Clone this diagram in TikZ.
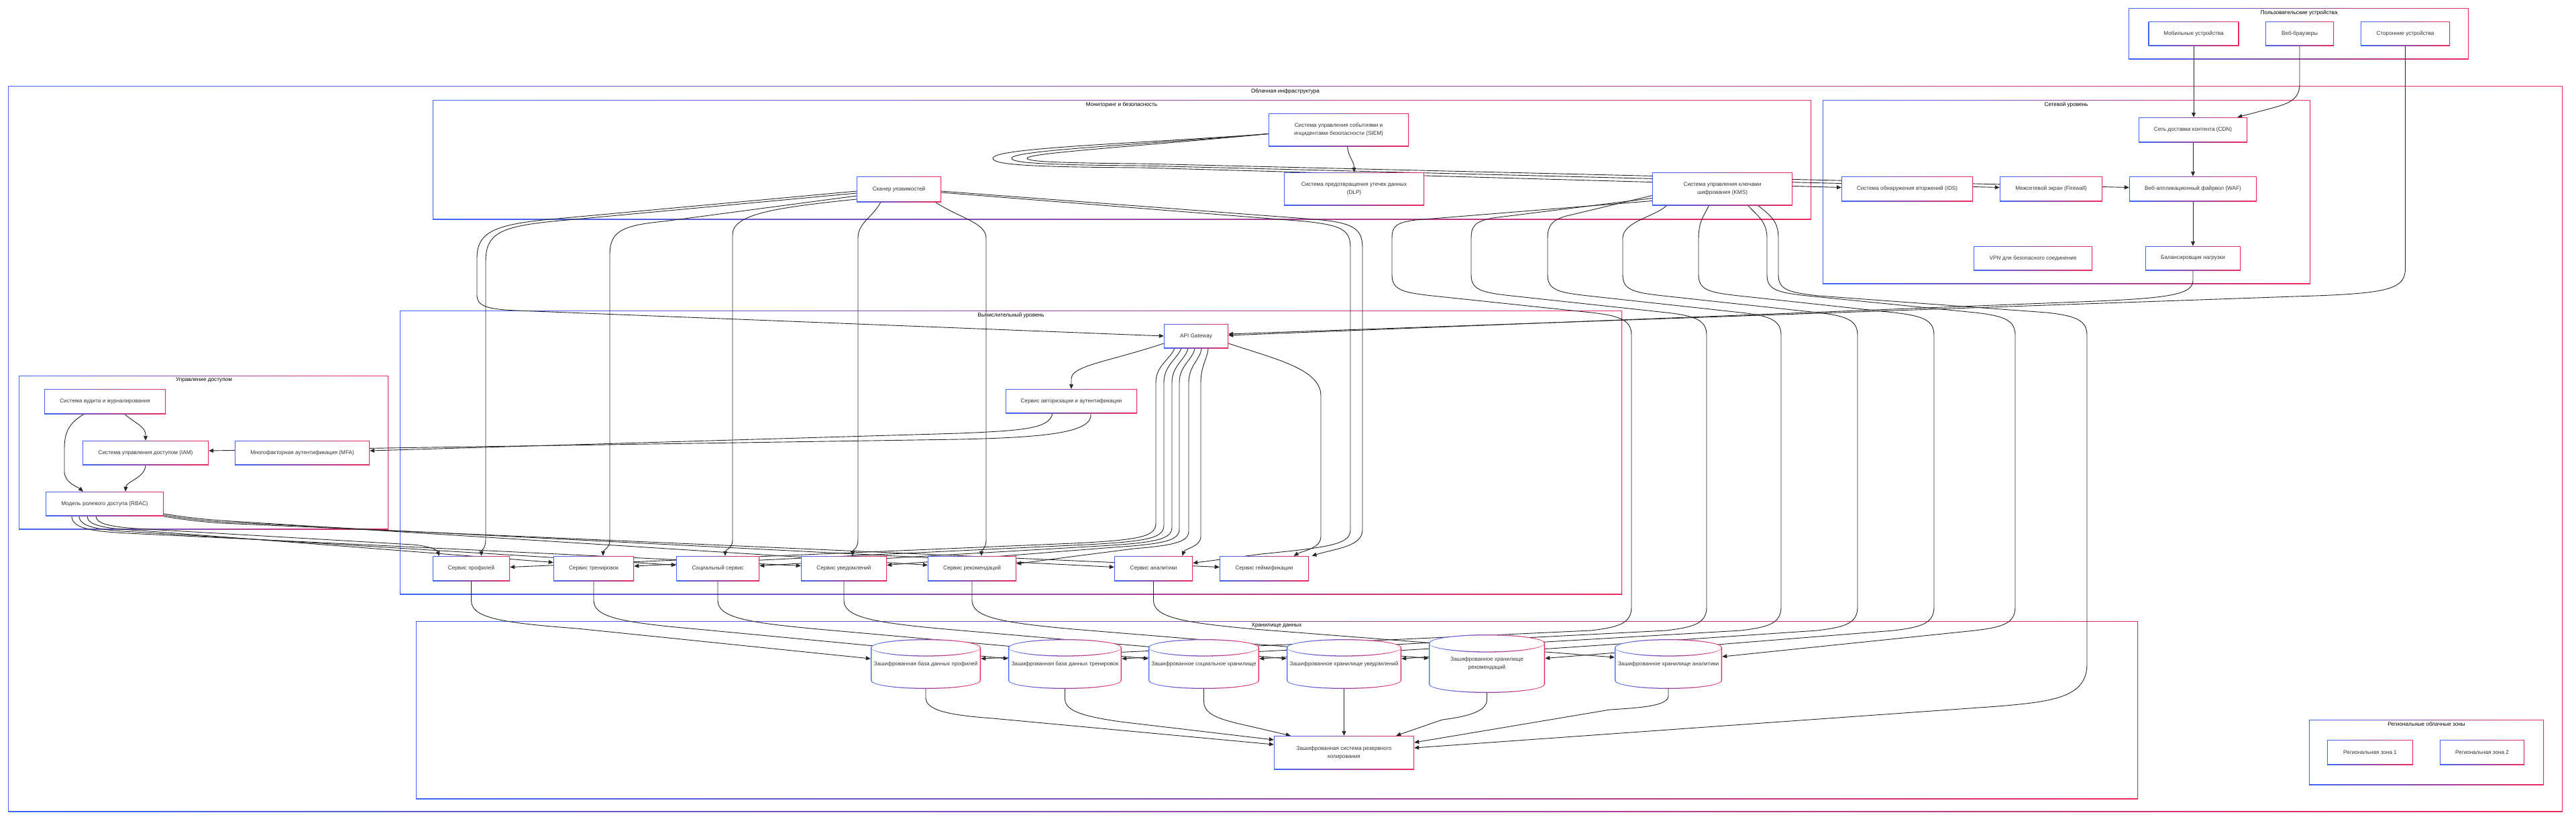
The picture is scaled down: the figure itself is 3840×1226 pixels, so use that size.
\documentclass[tikz,border=0pt]{standalone}
\usepackage{fontspec}
\setmainfont{Liberation Sans}
\setsansfont{Liberation Sans}
\usetikzlibrary{arrows.meta,calc}
\definecolor{cblue}{HTML}{3D66F5}
\definecolor{cred}{HTML}{EE2A5E}
\definecolor{tgray}{HTML}{333333}
\pgfdeclarelayer{bg}
\pgfdeclarelayer{edges}
\pgfsetlayers{bg,edges,main}
\tikzset{
  gbox/.style 2 args={rectangle, fill=white, draw=none, minimum width=#1pt, minimum height=#2pt, inner sep=0pt, text=tgray, font=\fontsize{8.2}{12}\selectfont, align=center,
    path picture={
      \shade[left color=cblue, right color=cred] (path picture bounding box.south west) rectangle (path picture bounding box.north east);
      \fill[white] ([shift={(1.3pt,1.3pt)}]path picture bounding box.south west) rectangle ([shift={(-1.3pt,-1.3pt)}]path picture bounding box.north east);
    }},
  dbname/.style 2 args={rectangle, draw=none, minimum width=#1pt, minimum height=#2pt, inner sep=0pt, text=tgray, font=\fontsize{8.2}{12}\selectfont, align=center},
  ctitle/.style={text=black, font=\fontsize{8.2}{10}\selectfont, inner sep=0pt},
  conn/.style={draw=black!85, line width=0.9pt, -{Triangle[length=7pt,width=6pt]}},
}
\newcommand\gclus[4]{%
  \shade[left color=cblue, right color=cred] (#1,#2) rectangle (#3,#4);
  \fill[white] (#1+1.3,#2+1.3) rectangle (#3-1.3,#4-1.3);}
\newcommand\dbcyl[5]{%
 \pgfmathsetmacro\cyA{#3/2}%
 \pgfmathsetmacro\cyKA{0.5523*#3/2}%
 \pgfmathsetmacro\cyT{-#4/2+#5}%
 \pgfmathsetmacro\cyB{#4/2-#5}%
 \pgfmathsetmacro\cyR{#5}%
 \pgfmathsetmacro\cyK{0.5523*#5}%
 \pgfmathsetmacro\cyAi{#3/2-1.3}%
 \pgfmathsetmacro\cyKAi{0.5523*(#3/2-1.3)}%
 \pgfmathsetmacro\cyRi{#5-1.3}%
 \pgfmathsetmacro\cyKi{0.5523*(#5-1.3)}%
 \pgfmathsetmacro\cyRo{#5+0.65}%
 \pgfmathsetmacro\cyKo{0.5523*(#5+0.65)}%
 \pgfmathsetmacro\cyRm{#5-0.65}%
 \pgfmathsetmacro\cyKm{0.5523*(#5-0.65)}%
 \begin{scope}[shift={(#1,#2)}]
 \shade[left color=cblue, right color=cred] (-\cyA,\cyT) -- (-\cyA,\cyB)
   .. controls (-\cyA,\cyB+\cyK) and (-\cyKA,\cyB+\cyR) .. (0,\cyB+\cyR)
   .. controls (\cyKA,\cyB+\cyR) and (\cyA,\cyB+\cyK) .. (\cyA,\cyB)
   -- (\cyA,\cyT)
   .. controls (\cyA,\cyT-\cyK) and (\cyKA,\cyT-\cyR) .. (0,\cyT-\cyR)
   .. controls (-\cyKA,\cyT-\cyR) and (-\cyA,\cyT-\cyK) .. (-\cyA,\cyT) -- cycle;
 \fill[white] (-\cyAi,\cyT) -- (-\cyAi,\cyB)
   .. controls (-\cyAi,\cyB+\cyKi) and (-\cyKAi,\cyB+\cyRi) .. (0,\cyB+\cyRi)
   .. controls (\cyKAi,\cyB+\cyRi) and (\cyAi,\cyB+\cyKi) .. (\cyAi,\cyB)
   -- (\cyAi,\cyT)
   .. controls (\cyAi,\cyT-\cyKi) and (\cyKAi,\cyT-\cyRi) .. (0,\cyT-\cyRi)
   .. controls (-\cyKAi,\cyT-\cyRi) and (-\cyAi,\cyT-\cyKi) .. (-\cyAi,\cyT) -- cycle;
 \shade[left color=cblue, right color=cred] (-\cyA,\cyT)
   .. controls (-\cyA,\cyT+\cyKo) and (-\cyKA,\cyT+\cyRo) .. (0,\cyT+\cyRo)
   .. controls (\cyKA,\cyT+\cyRo) and (\cyA,\cyT+\cyKo) .. (\cyA,\cyT)
   .. controls (\cyA,\cyT+\cyKm) and (\cyKA,\cyT+\cyRm) .. (0,\cyT+\cyRm)
   .. controls (-\cyKA,\cyT+\cyRm) and (-\cyA,\cyT+\cyKm) .. (-\cyA,\cyT) -- cycle;
 \end{scope}}
\begin{document}
\begin{tikzpicture}[x=1pt,y=-1pt]
\useasboundingbox (0,0) rectangle (3840,1226);
\begin{pgfonlayer}{bg}
\fill[white] (0,0) rectangle (3840,1226);
\gclus{3173}{12}{3680}{88}
\node[ctitle] (tUser) at (3427,19) {Пользовательские устройства};
\gclus{12}{128}{3820}{1210}
\node[ctitle] (tCloud) at (1916,136) {Облачная инфраструктура};
\gclus{645}{149}{2700}{327}
\node[ctitle] (tMon) at (1672,156) {Мониторинг и безопасность};
\gclus{2717}{149}{3444}{423}
\node[ctitle] (tNet) at (3080,156) {Сетевой уровень};
\gclus{596}{463}{2418}{886}
\node[ctitle] (tComp) at (1507,470) {Вычислительный уровень};
\gclus{28}{560}{579}{789}
\node[ctitle] (tAcc) at (304,566.5) {Управление доступом};
\gclus{620}{926}{3187}{1191}
\node[ctitle] (tSto) at (1903,933) {Хранилище данных};
\gclus{3442}{1073}{3792}{1170}
\node[ctitle] (tReg) at (3617,1079.5) {Региональные облачные зоны};
\end{pgfonlayer}

% nodes
\node[gbox={135}{36}] (mob) at (3270,50) {Мобильные устройства};
\node[gbox={102}{36}] (web) at (3428,50) {Веб-браузеры};
\node[gbox={133}{36}] (third) at (3585.5,50) {Сторонние устройства};
\node[gbox={162}{37}] (cdn) at (3269,193.5) {Сеть доставки контента (CDN)};
\node[gbox={196}{37}] (ids) at (2843,281.5) {Система обнаружения вторжений (IDS)};
\node[gbox={153}{37}] (fw) at (3057.5,281.5) {Межсетевой экран (Firewall)};
\node[gbox={190}{37}] (waf) at (3269,281.5) {Веб-аппликационный файрвол (WAF)};
\node[gbox={177}{36}] (vpn) at (3030.5,385) {VPN для безопасного соединения};
\node[gbox={142}{36}] (lb) at (3269,385) {Балансировщик нагрузки};
\node[gbox={126}{38}] (scan) at (1340,282) {Сканер уязвимостей};
\node[gbox={209}{49}] (siem) at (1995.5,193.5) {Система управления событиями и\\инцидентами безопасности (SIEM)};
\node[gbox={209}{49}] (dlp) at (2018.5,281.5) {Система предотвращения утечек данных\\(DLP)};
\node[gbox={209}{49}] (kms) at (2567.5,281.5) {Система управления ключами\\шифрования (KMS)};
\node[gbox={96}{36}] (api) at (1783,501) {API Gateway};
\node[gbox={196}{36}] (auth) at (1597,598) {Сервис авторизации и аутентификации};
\node[gbox={115}{37}] (prof) at (702.5,847.5) {Сервис профилей};
\node[gbox={120}{37}] (train) at (885,847.5) {Сервис тренировок};
\node[gbox={124}{37}] (soc) at (1070,847.5) {Социальный сервис};
\node[gbox={128}{37}] (notif) at (1258,847.5) {Сервис уведомлений};
\node[gbox={132}{37}] (rec) at (1449,847.5) {Сервис рекомендаций};
\node[gbox={117}{37}] (anal) at (1719.5,847.5) {Сервис аналитики};
\node[gbox={133}{37}] (gam) at (1884.5,847.5) {Сервис геймификации};
\node[gbox={181}{37}] (audit) at (156.5,598.5) {Система аудита и журналирования};
\node[gbox={188}{36}] (iam) at (217,675) {Система управления доступом (IAM)};
\node[gbox={201}{36}] (mfa) at (450.5,675) {Многофакторная аутентификация (MFA)};
\node[gbox={176}{36}] (rbac) at (156,751) {Модель ролевого доступа (RBAC)};
\dbcyl{1380}{990}{164}{74}{12.5}
\node[dbname={164}{74}] (dbprof) at (1380,990) {Зашифрованная база данных профилей};
\dbcyl{1587.5}{990}{169}{74}{12.5}
\node[dbname={169}{74}] (dbtrain) at (1587.5,990) {Зашифрованная база данных тренировок};
\dbcyl{1794.5}{990}{165}{74}{12.5}
\node[dbname={165}{74}] (dbsoc) at (1794.5,990) {Зашифрованное социальное хранилище};
\dbcyl{2003.5}{990}{171}{74}{12.5}
\node[dbname={171}{74}] (dbnotif) at (2003.5,990) {Зашифрованное хранилище уведомлений};
\dbcyl{2216.5}{989.5}{173}{87}{13}
\node[dbname={173}{87}] (dbrec) at (2216.5,989.5) {Зашифрованное хранилище\\рекомендаций};
\dbcyl{2487}{990}{160}{74}{12.5}
\node[dbname={160}{74}] (dbanal) at (2487,990) {Зашифрованное хранилище аналитики};
\node[gbox={209}{50}] (backup) at (2003.5,1122) {Зашифрованная система резервного\\копирования};
\node[gbox={128}{37}] (z1) at (3533,1121.5) {Региональная зона 1};
\node[gbox={126}{37}] (z2) at (3700,1121.5) {Региональная зона 2};

\begin{pgfonlayer}{edges}
% devices and network
\draw[conn] (mob.south) -- (mob.south |- cdn.north);
\draw[conn] (web.south) -- (3428,125) .. controls (3428,150) and (3410,155) .. (3380,163) -- ($(cdn.north east)+(-15,0)$);
\draw[conn] (third.south) -- (3585.5,400) .. controls (3585.5,432) and (3560,438) .. (3420,442) -- ($(api.east)+(0,-3)$);
\draw[conn] (cdn.south) -- (waf.north);
\draw[conn] (waf.south) -- (lb.north);
\draw[conn] (lb.south) -- (3269,418) .. controls (3269,440) and (3230,445) .. (3100,450) -- ($(api.east)+(0,-1)$);
% SIEM
\draw[conn] ($(siem.west)+(0,6)$) .. controls (1700,214) and (1480,220) .. (1480,236) .. controls (1480,246) and (1540,249) .. (1700,250) -- ($(ids.west)+(0,-2)$);
\draw[conn] ($(siem.west)+(0,6)$) .. controls (1700,216) and (1508,224) .. (1508,236) .. controls (1508,243) and (1560,246) .. (1700,247) -- ($(fw.west)+(0,-2)$);
\draw[conn] ($(siem.west)+(0,6)$) .. controls (1700,218) and (1531,228) .. (1531,236) .. controls (1531,241) and (1580,243) .. (1700,244) -- ($(waf.west)+(0,-2)$);
\draw[conn] ($(siem.south)+(13,0)$) .. controls (2010,235) and (2018.5,240) .. (dlp.north);
% KMS to storage
\draw[conn] ($(kms.west)+(0,18)$) -- (2110,328) .. controls (2080,332) and (2075,338) .. (2075,355) -- (2075,410) .. controls (2075,432) and (2090,436) .. (2135,441) -- (2372,466) .. controls (2417,471) and (2432,478) .. (2432,500) -- (2432,905) .. controls (2432,930) and (2412,935) .. (2372,940) -- ($(dbprof.east)+(0,-8)$);
\draw[conn] ($(kms.west)+(0,14)$) -- (2225,325) .. controls (2198,330) and (2193,338) .. (2193,355) -- (2193,410) .. controls (2193,432) and (2208,436) .. (2253,441) -- (2484,466) .. controls (2529,471) and (2544,478) .. (2544,500) -- (2544,905) .. controls (2544,930) and (2524,935) .. (2484,940) -- ($(dbtrain.east)+(0,-8)$);
\draw[conn] ($(kms.west)+(0,10)$) -- (2335,322) .. controls (2312,328) and (2307,338) .. (2307,355) -- (2307,410) .. controls (2307,432) and (2322,436) .. (2367,441) -- (2595,466) .. controls (2640,471) and (2655,478) .. (2655,500) -- (2655,905) .. controls (2655,930) and (2635,935) .. (2595,940) -- ($(dbsoc.east)+(0,-8)$);
\draw[conn] ($(kms.south)+(-83,0)$) .. controls (2470,322) and (2419,330) .. (2419,355) -- (2419,410) .. controls (2419,432) and (2434,436) .. (2479,441) -- (2709,466) .. controls (2754,471) and (2769,478) .. (2769,500) -- (2769,905) .. controls (2769,930) and (2749,935) .. (2709,940) -- ($(dbnotif.east)+(0,-8)$);
\draw[conn] ($(kms.south)+(-20,0)$) .. controls (2540,322) and (2532,330) .. (2532,355) -- (2532,410) .. controls (2532,432) and (2547,436) .. (2592,441) -- (2823,466) .. controls (2868,471) and (2883,478) .. (2883,500) -- (2883,905) .. controls (2883,930) and (2863,935) .. (2823,940) -- ($(dbrec.east)+(0,-8)$);
\draw[conn] ($(kms.south)+(38,0)$) .. controls (2620,322) and (2634,330) .. (2634,355) -- (2634,410) .. controls (2634,432) and (2649,436) .. (2694,441) -- (2944,466) .. controls (2989,471) and (3004,478) .. (3004,500) -- (3004,905) .. controls (3004,930) and (2984,935) .. (2944,940) -- ($(dbanal.east)+(0,-11)$);
\draw[conn] ($(kms.south)+(53,0)$) .. controls (2640,322) and (2651,330) .. (2651,355) -- (2651,410) .. controls (2651,432) and (2666,436) .. (2711,441) -- (3051,466) .. controls (3096,471) and (3111,478) .. (3111,500) -- (3111,990) .. controls (3111,1040) and (3060,1046) .. (2978,1053) -- ($(backup.east)+(0,-7)$);
% scanner
\draw[conn] ($(scan.west)+(0,3)$) -- (820,327) .. controls (735,335) and (711,347) .. (711,385) -- (711,440) .. controls (711,456) and (725,461) .. (770,463) -- (api.west);
\draw[conn] ($(scan.west)+(0,6)$) -- (835,329) .. controls (745,337) and (724,348) .. (724,390) -- (724,805) .. controls (724,818) and (717.5,820) .. ($(prof.north)+(15,0)$);
\draw[conn] ($(scan.west)+(0,10)$) -- (990,330) .. controls (925,336) and (909,346) .. (909,380) -- (909,805) .. controls (909,818) and (899,820) .. ($(train.north)+(14,0)$);
\draw[conn] ($(scan.west)+(0,15)$) .. controls (1150,310) and (1092,320) .. (1092,350) -- (1092,805) .. controls (1092,818) and (1081,820) .. ($(soc.north)+(11,0)$);
\draw[conn] ($(scan.south)+(-27,0)$) .. controls (1300,325) and (1279,332) .. (1279,355) -- (1279,805) .. controls (1279,818) and (1271,820) .. ($(notif.north)+(13,0)$);
\draw[conn] ($(scan.south)+(54,0)$) .. controls (1430,325) and (1470,332) .. (1470,355) -- (1470,805) .. controls (1470,818) and (1463,820) .. ($(rec.north)+(14,0)$);
\draw[conn] ($(scan.east)+(0,3)$) -- (1960,327) .. controls (2020,332) and (2031,342) .. (2031,370) -- (2031,790) .. controls (2031,815) and (1990,818) .. ($(gam.north)+(71,0)$);
\draw[conn] ($(scan.east)+(0,5)$) -- (1945,330) .. controls (2003,336) and (2013,344) .. (2013,370) -- (2013,790) .. controls (2013,812) and (1980,816) .. (1880,826) -- ($(anal.east)+(0,-8)$);
% API gateway
\draw[conn] ($(api.west)+(0,11)$) .. controls (1650,540) and (1597,545) .. (1597,565) -- (auth.north);
\draw[conn] ($(api.south)+(-32,0)$) .. controls (1745,535) and (1723,545) .. (1723,570) -- (1723,780) .. controls (1723,800) and (1700,805) .. (1600,810) -- ($(prof.east)+(0,-2)$);
\draw[conn] ($(api.south)+(-22,0)$) .. controls (1755,535) and (1735,545) .. (1735,570) -- (1735,783) .. controls (1735,802) and (1712,807) .. (1620,812) -- ($(train.east)+(0,-3.5)$);
\draw[conn] ($(api.south)+(-12,0)$) .. controls (1768,535) and (1747,545) .. (1747,570) -- (1747,786) .. controls (1747,804) and (1724,809) .. (1640,814) -- ($(soc.east)+(0,-4)$);
\draw[conn] ($(api.south)+(-2,0)$) .. controls (1779,535) and (1758,545) .. (1758,570) -- (1758,789) .. controls (1758,806) and (1735,811) .. (1660,816) -- ($(notif.east)+(0,-5)$);
\draw[conn] ($(api.south)+(8,0)$) .. controls (1790,535) and (1772,545) .. (1772,570) -- (1772,792) .. controls (1772,808) and (1750,813) .. (1690,818) -- ($(rec.east)+(0,-7)$);
\draw[conn] ($(api.south)+(18,0)$) .. controls (1800,535) and (1790,545) .. (1790,570) -- (1790,800) .. controls (1790,815) and (1766,818) .. ($(anal.north)+(43,0)$);
\draw[conn] ($(api.east)+(0,11)$) .. controls (1900,535) and (1969,550) .. (1969,590) -- (1969,800) .. controls (1969,818) and (1940,822) .. ($(gam.north)+(44,0)$);
% access management
\draw[conn] ($(auth.south)+(-28,0)$) .. controls (1565,640) and (1520,642) .. (1430,646) -- ($(mfa.east)+(0,-3)$);
\draw[conn] ($(auth.south)+(29,0)$) .. controls (1630,645) and (1560,652) .. (1430,655) -- ($(iam.east)+(0,-3)$);
\draw[conn] ($(audit.south)+(29,0)$) .. controls (200,630) and (217,636) .. (217,648) -- (iam.north);
\draw[conn] ($(audit.south)+(-31,0)$) .. controls (100,632) and (96,648) .. (96,670) -- (96,703) .. controls (96,720) and (116,726) .. ($(rbac.north)+(-32,0)$);
\draw[conn] (iam.south) .. controls (217,712) and (188,718) .. ($(rbac.north)+(31,0)$);
% RBAC to services
\draw[conn] ($(rbac.south)+(-13,0)$) .. controls (143,780) and (160,786) .. (220,789) -- (615,812) .. controls (640,814) and (652,820) .. ($(prof.north west)+(10,0)$);
\draw[conn] ($(rbac.south)+(-26,0)$) .. controls (130,782) and (150,788) .. (210,791) -- ($(train.west)+(0,-9)$);
\draw[conn] ($(rbac.south)+(-38,0)$) .. controls (118,784) and (140,790) .. (200,793) -- ($(soc.west)+(0,-5)$);
\draw[conn] ($(rbac.south)+(-49,0)$) .. controls (107,786) and (130,792) .. (190,795) -- ($(notif.west)+(0,-4)$);
\draw[conn] ($(rbac.east)+(0,15)$) .. controls (270,770) and (290,773) .. (330,776) -- ($(rec.west)+(0,-5)$);
\draw[conn] ($(rbac.east)+(0,17)$) .. controls (270,772) and (290,775) .. (330,778) -- ($(anal.west)+(0,-2)$);
\draw[conn] ($(rbac.east)+(0,19)$) .. controls (270,774) and (290,777) .. (330,780) -- ($(gam.west)+(0,-2)$);
% services to storage
\draw[conn] (prof.south) -- (702.5,895) .. controls (702.5,920) and (740,928) .. (860,937) -- ($(dbprof.west)+(0,-8)$);
\draw[conn] (train.south) -- (885,895) .. controls (885,920) and (925,928) .. (1040,938) -- ($(dbtrain.west)+(0,-8)$);
\draw[conn] (soc.south) -- (1070,895) .. controls (1070,920) and (1110,928) .. (1220,938) -- ($(dbsoc.west)+(0,-8)$);
\draw[conn] (notif.south) -- (1258,895) .. controls (1258,920) and (1300,928) .. (1410,938) -- ($(dbnotif.west)+(0,-8)$);
\draw[conn] (rec.south) -- (1449,895) .. controls (1449,920) and (1490,928) .. (1600,938) -- ($(dbrec.west)+(0,-8)$);
\draw[conn] (anal.south) -- (1719.5,895) .. controls (1719.5,920) and (1760,928) .. (1870,938) -- ($(dbanal.west)+(0,-10)$);
% storage to backup
\draw[conn] (dbprof.south) -- (1380,1040) .. controls (1380,1058) and (1410,1066) .. (1480,1071) -- ($(backup.west)+(0,-12)$);
\draw[conn] (dbtrain.south) -- (1587.5,1042) .. controls (1587.5,1060) and (1615,1068) .. (1670,1076) -- ($(backup.west)+(0,-19)$);
\draw[conn] (dbsoc.south) -- (1794.5,1045) .. controls (1794.5,1065) and (1815,1072) .. (1860,1082) -- ($(backup.north west)+(25,0)$);
\draw[conn] (dbnotif.south) -- (backup.north);
\draw[conn] (dbrec.south) -- (2216.5,1043) .. controls (2216.5,1060) and (2190,1068) .. (2150,1073) -- ($(backup.north east)+(-27,0)$);
\draw[conn] (dbanal.south) -- (2487,1037) .. controls (2487,1052) and (2450,1055) .. (2400,1058) -- ($(backup.east)+(0,-15)$);
\end{pgfonlayer}
\end{tikzpicture}
\end{document}
